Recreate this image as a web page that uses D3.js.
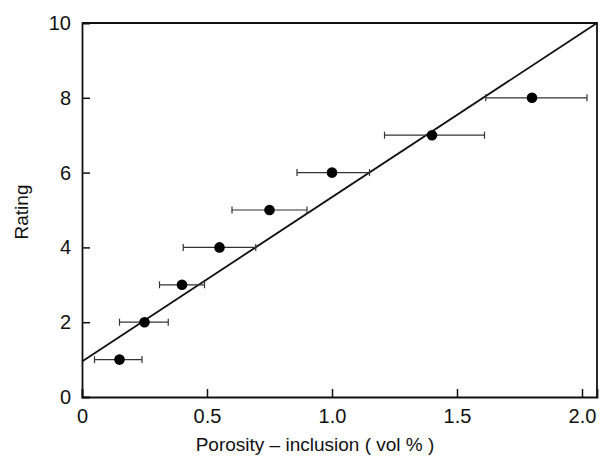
<!DOCTYPE html>
<html>
<head>
<meta charset="utf-8">
<script src="https://cdn.jsdelivr.net/npm/d3@7"></script>
<style>
  html, body { margin: 0; padding: 0; background: #fff; }
  svg text { font-family: "Liberation Sans", Arial, Helvetica, sans-serif; fill: #111; }
</style>
</head>
<body>
<svg id="chart" width="602" height="456"></svg>
<script>
// ---- data ----
const porosity = [0.15, 0.25, 0.40, 0.55, 0.75, 1.00, 1.40, 1.80];
const rating   = [1, 2, 3, 4, 5, 6, 7, 8];
const errLow   = [0.05, 0.15, 0.31, 0.405, 0.60, 0.86, 1.21, 1.615];
const errHigh  = [0.24, 0.345, 0.49, 0.695, 0.90, 1.15, 1.61, 2.02];
const fitX     = [0, 2.06];
const fitY     = [0.95, 10];
const xTicks   = [0, 0.5, 1.0, 1.5, 2.0];
const yTicks   = [0, 2, 4, 6, 8, 10];
const xTickLabels = ["0", "0.5", "1.0", "1.5", "2.0"];
const xTitle = "Porosity \u2013 inclusion ( vol % )";
const yTitle = "Rating";

// ---- layout ----
const W = 602, H = 456;
const m = { left: 82, right: 5, top: 23, bottom: 59 };
const svg = d3.select("#chart");

const x = d3.scaleLinear().domain([0, 2.06]).range([m.left, W - m.right]);
const y = d3.scaleLinear().domain([0, 10]).range([H - m.bottom, m.top]);

// frame (top & right)
svg.append("path")
  .attr("d", `M${x(0)},${y(10)}H${x(2.06)}V${y(0)}`)
  .attr("fill", "none").attr("stroke", "#111").attr("stroke-width", 1.8);

// axes
const xAxis = d3.axisBottom(x).tickValues(xTicks)
  .tickFormat((d, i) => xTickLabels[i]).tickSize(-8).tickPadding(12);
const gx = svg.append("g").attr("transform", `translate(0,${y(0)})`).call(xAxis);
gx.select(".domain").attr("stroke", "#111").attr("stroke-width", 1.8);
gx.selectAll(".tick line").attr("stroke", "#111").attr("stroke-width", 1.5);
gx.selectAll(".tick text").attr("font-size", 20);

const yAxis = d3.axisLeft(y).tickValues(yTicks).tickFormat(d3.format("d"))
  .tickSize(-8).tickPadding(11);
const gy = svg.append("g").attr("transform", `translate(${x(0)},0)`).call(yAxis);
gy.select(".domain").attr("stroke", "#111").attr("stroke-width", 1.8);
gy.selectAll(".tick line").attr("stroke", "#111").attr("stroke-width", 1.5)
  .filter(d => d === 0 || d === 10).remove();
gy.selectAll(".tick text").attr("font-size", 20);

// fit line
svg.append("line")
  .attr("x1", x(fitX[0])).attr("y1", y(fitY[0]))
  .attr("x2", x(fitX[1])).attr("y2", y(fitY[1]))
  .attr("stroke", "#111").attr("stroke-width", 1.8);

// error bars
const data = porosity.map((p, i) => ({ p, r: rating[i], lo: errLow[i], hi: errHigh[i] }));
const eb = svg.append("g").attr("stroke", "#333").attr("stroke-width", 1.2);
data.forEach(d => {
  eb.append("line").attr("x1", x(d.lo)).attr("x2", x(d.hi))
    .attr("y1", y(d.r)).attr("y2", y(d.r));
  [d.lo, d.hi].forEach(v => {
    eb.append("line").attr("x1", x(v)).attr("x2", x(v))
      .attr("y1", y(d.r) - 3.5).attr("y2", y(d.r) + 3.5);
  });
});

// points
svg.append("g").selectAll("circle").data(data).join("circle")
  .attr("cx", d => x(d.p)).attr("cy", d => y(d.r)).attr("r", 5.3)
  .attr("fill", "#000");

// titles
svg.append("text").attr("x", 315).attr("y", 451)
  .attr("text-anchor", "middle").attr("font-size", 19).text(xTitle);
svg.append("text").attr("transform", `translate(28,212) rotate(-90)`)
  .attr("text-anchor", "middle").attr("font-size", 19).text(yTitle);
</script>
</body>
</html>
